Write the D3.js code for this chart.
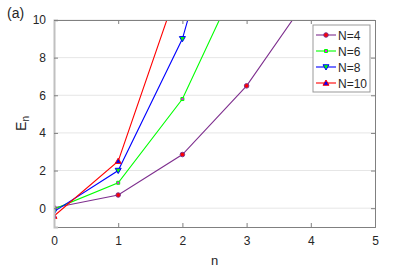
<!DOCTYPE html>
<html>
<head>
<meta charset="utf-8">
<script src="https://cdn.jsdelivr.net/npm/d3@7"></script>
<style>
  body { margin: 0; background: #fff; }
  svg { font-family: "Liberation Sans", Arial, sans-serif; }
</style>
</head>
<body>
<div id="chart_div"></div>
<script>
const nValues = [0, 1, 2, 3, 4];
const seriesNames = ["N=4", "N=6", "N=8", "N=10"];
const energyN4 = [0.02, 0.7, 2.85, 6.5, 11.4];
const energyN6 = [-0.05, 1.35, 5.8, 13.1];
const energyN8 = [-0.18, 2.0, 9.0, 21.0];
const energyN10 = [-0.42, 2.5, 12.4];
const xTicks = [0, 1, 2, 3, 4, 5];
const yTicks = [0, 2, 4, 6, 8, 10];

const width = 415;
const height = 268;
const margin = { left: 54, right: 40, top: 20, bottom: 41 };

const x = d3.scaleLinear().domain([0, 5]).range([margin.left, width - margin.right]);
const y = d3.scaleLinear().domain([-1, 10]).range([height - margin.bottom, margin.top]);

const series = [
    { name: seriesNames[0], values: energyN4, color: "#7e2f8e", fill: "#ff0000", shape: "circle" },
    { name: seriesNames[1], values: energyN6, color: "#00ff00", fill: "#ff00ff", shape: "square" },
    { name: seriesNames[2], values: energyN8, color: "#0000ff", fill: "#00ff00", shape: "down" },
    { name: seriesNames[3], values: energyN10, color: "#ff0000", fill: "#0000ff", shape: "up" }
];

const svg = d3.select("#chart_div")
    .append("svg")
    .attr("width", width)
    .attr("height", height);

const x0 = x(0), x1 = x(5), yb = y(-1), yt = y(10);

// grid
svg.append("g")
    .selectAll("line")
    .data(yTicks)
    .enter()
    .append("line")
    .attr("x1", x0).attr("x2", x1)
    .attr("y1", d => y(d)).attr("y2", d => y(d))
    .attr("stroke", "#e6e6e6")
    .attr("stroke-width", 1);

svg.append("defs").append("clipPath")
    .attr("id", "clip")
    .append("rect")
    .attr("x", x0).attr("y", yt)
    .attr("width", x1 - x0).attr("height", yb - yt);

const symbol = (shape) => {
    if (shape === "circle") return d3.symbol(d3.symbolCircle, 16)();
    if (shape === "square") return d3.symbol(d3.symbolSquare, 9)();
    const h = 3;
    if (shape === "up") return `M0,${-h}L${h},${h * 0.75}L${-h},${h * 0.75}Z`;
    return `M0,${h}L${h},${-h * 0.75}L${-h},${-h * 0.75}Z`;
};

const plot = svg.append("g").attr("clip-path", "url(#clip)");
const line = d3.line().x((d, i) => x(nValues[i])).y(d => y(d));

series.forEach(s => {
    plot.append("path")
        .attr("d", line(s.values))
        .attr("fill", "none")
        .attr("stroke", s.color)
        .attr("stroke-width", 1.1);
});
series.forEach(s => {
    plot.append("g")
        .selectAll("path")
        .data(s.values)
        .enter()
        .append("path")
        .attr("transform", (d, i) => `translate(${x(nValues[i])},${y(d)})`)
        .attr("d", symbol(s.shape))
        .attr("fill", s.fill)
        .attr("stroke", s.color)
        .attr("stroke-width", 1);
});

// axes
const axisColor = "#262626";
svg.append("g")
    .attr("transform", `translate(0,${yb})`)
    .call(d3.axisBottom(x).tickValues(xTicks).tickSize(-4).tickPadding(9).tickFormat(d3.format("d")))
    .call(g => g.select(".domain").attr("stroke", "#808080"))
    .call(g => g.selectAll(".tick line").attr("stroke", "#808080"))
    .call(g => g.selectAll("text").attr("fill", axisColor).attr("font-size", 12));

svg.append("g")
    .attr("transform", `translate(0,${yt})`)
    .call(d3.axisTop(x).tickValues(xTicks).tickSize(-4).tickFormat(""))
    .call(g => g.select(".domain").attr("stroke", "#808080"))
    .call(g => g.selectAll(".tick line").attr("stroke", "#808080"));

svg.append("g")
    .attr("transform", `translate(${x0},0)`)
    .call(d3.axisLeft(y).tickValues(yTicks).tickSize(-4).tickPadding(8).tickFormat(d3.format("d")))
    .call(g => g.select(".domain").attr("stroke", "#c0c0c0").attr("stroke-width", 2))
    .call(g => g.selectAll(".tick line").attr("stroke", "#808080"))
    .call(g => g.selectAll("text").attr("fill", axisColor).attr("font-size", 12));

svg.append("g")
    .attr("transform", `translate(${x1},0)`)
    .call(d3.axisRight(y).tickValues(yTicks).tickSize(-4).tickFormat(""))
    .call(g => g.select(".domain").attr("stroke", "#808080"))
    .call(g => g.selectAll(".tick line").attr("stroke", "#808080"));

// labels
svg.append("text")
    .attr("x", 7).attr("y", 18)
    .attr("font-size", 14)
    .attr("fill", axisColor)
    .text("(a)");

svg.append("text")
    .attr("x", (x0 + x1) / 2).attr("y", 265)
    .attr("text-anchor", "middle")
    .attr("font-size", 13)
    .attr("fill", axisColor)
    .text("n");

const yl = svg.append("text")
    .attr("transform", `translate(26,${(yt + yb) / 2}) rotate(-90)`)
    .attr("text-anchor", "middle")
    .attr("font-size", 14)
    .attr("fill", axisColor);
yl.append("tspan").text("E");
yl.append("tspan").attr("font-size", 10).attr("dy", 3).text("n");

// legend
const lg = svg.append("g").attr("transform", "translate(313,25)");
lg.append("rect")
    .attr("width", 57).attr("height", 67)
    .attr("fill", "#fff")
    .attr("stroke", "#999")
    .attr("stroke-width", 1);
series.forEach((s, i) => {
    const yy = 10 + i * 16;
    lg.append("line")
        .attr("x1", 3).attr("x2", 23).attr("y1", yy).attr("y2", yy)
        .attr("stroke", s.color).attr("stroke-width", 1.1);
    lg.append("path")
        .attr("transform", `translate(13,${yy})`)
        .attr("d", symbol(s.shape))
        .attr("fill", s.fill)
        .attr("stroke", s.color);
    lg.append("text")
        .attr("x", 25).attr("y", yy + 4.5)
        .attr("font-size", 12)
        .attr("fill", axisColor)
        .text(s.name);
});
</script>
</body>
</html>
